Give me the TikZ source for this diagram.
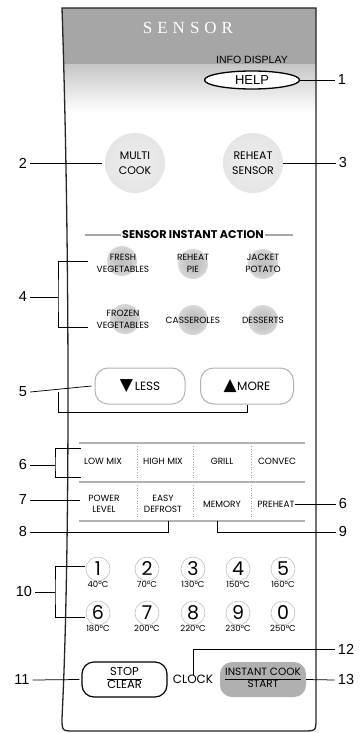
\documentclass[tikz,border=0pt]{standalone}
\usepackage{fontspec}
\setmainfont{Poppins}
\newfontfamily\labfont{Liberation Sans}
\newfontfamily\titlefont{Liberation Serif}
\newfontfamily\symfont{DejaVu Sans}
\usetikzlibrary{shapes.geometric,calc}
\pgfdeclareradialshading{softbig}{\pgfpoint{0bp}{0bp}}{color(0bp)=(black!7); color(32bp)=(black!11); color(50bp)=(white)}
\pgfdeclareradialshading{softsmall}{\pgfpoint{0bp}{0bp}}{color(0bp)=(black!25); color(14bp)=(black!22); color(50bp)=(white)}
\tikzset{
  lbl/.style={font=\labfont\fontsize{14.5}{15}\selectfont, inner sep=3pt},
  callout/.style={line width=0.75pt, black},
  bigkey/.style={circle, minimum size=60pt, inner sep=0pt, shading=softbig, font=\fontsize{11}{15.5}\selectfont, align=center},
  actdot/.style={circle, minimum size=30pt, inner sep=0pt, shading=softsmall},
  act/.style={font=\fontsize{9}{12.5}\selectfont, align=center, inner sep=0pt},
  pill/.style={draw=black!30, line width=1pt, rounded corners=13pt, minimum height=36pt, inner sep=0pt, font=\fontsize{12}{12}\selectfont},
  gridtxt/.style={font=\fontsize{9}{11}\selectfont, align=center, inner sep=0pt},
  gridline/.style={black!30, line width=1.2pt},
  gridsep/.style={black!35, dotted, line width=0.6pt},
  numring/.style={circle, draw=black!25, line width=0.6pt, minimum size=24pt, inner sep=0pt},
  digit/.style={font=\fontsize{19}{19}\selectfont, inner sep=0pt},
  temp/.style={font=\fontsize{8.5}{8.5}\selectfont, inner sep=0pt},
  bottomkey/.style={rounded corners=12pt, minimum width=86pt, minimum height=35pt, inner sep=0pt, font=\fontsize{11.5}{12}\selectfont},
}
\setlength{\arrayrulewidth}{0.9pt}
\begin{document}
\begin{tikzpicture}[x=1pt, y=-1pt]
\useasboundingbox (0,0) rectangle (359,733);
\def\panelpath{(62,8) -- (316,8) -- (316,718) .. controls (316,731) .. (303,731) -- (75,731) .. controls (62,731) .. (62,718) .. controls (70,560) and (70,250) .. (62,8) -- cycle}
% header
\begin{scope}
  \clip \panelpath;
  \fill[black!35] (40,0) rectangle (330,65);
  \shade[top color=black!22, bottom color=white] (40,65) rectangle (330,112);
\end{scope}
\draw[black!85, line width=1.3pt] \panelpath;
\node[text=white, font=\titlefont\fontsize{17}{17}\selectfont, inner sep=0pt] (title) at (188,28) {S\kern5pt E\kern5pt N\kern5pt S\kern5pt O\kern5pt R};
\node[font=\labfont\fontsize{10.5}{11}\selectfont, inner sep=0pt] (info) at (252,60) {INFO DISPLAY};
\node[ellipse, draw=black, line width=1.3pt, fill=white, minimum width=95pt, minimum height=18pt, inner sep=0pt, font=\labfont\fontsize{13}{13}\selectfont] (help) at (252,80) {HELP};

% big keys
\node[bigkey] (mc) at (135,163) {MULTI\\COOK};
\node[bigkey] (rs) at (253,163) {REHEAT\\SENSOR};

% sensor instant action
\draw[black!35, line width=1.2pt] (85,235) -- (293,235);
\node[fill=white, inner xsep=1pt, inner ysep=0pt, font=\bfseries\fontsize{11.2}{12}\selectfont] (sia) at (193,235) {SENSOR INSTANT ACTION};
\foreach \n/\x/\y in {d1/122/261, d2/193/264, d3/263/264, d4/125/319, d5/193/320, d6/263/320}
  \node[actdot] (\n) at (\x,\y) {};
\node[act] (fv) at (123,263.5) {FRESH\\VEGETABLES};
\node[act] (rp) at (193,263.5) {REHEAT\\PIE};
\node[act] (jp) at (263,263.5) {JACKET\\POTATO};
\node[act] (zv) at (123,319.5) {FROZEN\\VEGETABLES};
\node[act] (cs) at (193,320) {CASSEROLES};
\node[act] (ds) at (263,320) {DESSERTS};

% less / more
\node[pill, minimum width=90pt] (less) at (140,386) {{\symfont\fontsize{17}{17}\selectfont ▼}\kern2pt LESS};
\node[pill, minimum width=93pt] (more) at (247,386) {{\symfont\fontsize{17}{17}\selectfont ▲}\kern0.5pt MORE};

% mode grid
\draw[gridline] (79,443) -- (305,443);
\draw[gridline] (79,482) -- (305,482);
\draw[gridline] (79,521) -- (305,521);
\foreach \x in {137,193,251} {
  \draw[gridsep] (\x,446) -- (\x,479);
  \draw[gridsep] (\x,485) -- (\x,518);
}
\node[gridtxt] (lm) at (103,461) {LOW MIX};
\node[gridtxt] (hm) at (163,461) {HIGH MIX};
\node[gridtxt] (gr) at (222,461) {GRILL};
\node[gridtxt] (cv) at (277,461) {CONVEC};
\node[gridtxt] (pl) at (104,503.5) {POWER\\LEVEL};
\node[gridtxt] (ed) at (163,503.5) {EASY\\DEFROST};
\node[gridtxt] (mm) at (222,504) {MEMORY};
\node[gridtxt] (ph) at (276,504) {PREHEAT};

% number keys
\foreach \d/\t/\x/\y in {1/40/98/569, 2/70/147/569, 3/130/193/569, 4/150/238/569, 5/160/283/569,
                         6/180/98/613, 7/200/147/613, 8/220/193/613, 9/230/238/613, 0/250/283/613} {
  \node[numring] (k\d) at (\x,\y) {};
  \node[digit] (n\d) at (\x,\y) {\d};
  \node[temp] (t\d) at (\x,\y+15) {\t°C};
}

% bottom keys
\node[bottomkey, draw=black, line width=1.2pt, minimum width=85pt] (sc) at (124.5,679.5)
  {\renewcommand{\arraystretch}{0.92}\begin{tabular}{@{}c@{}}STOP\\\hline CLEAR\end{tabular}};
\node[font=\fontsize{12}{12}\selectfont, inner sep=0pt] (clk) at (193,679) {CLOCK};
\node[bottomkey, fill=black!31, font=\fontsize{10.5}{11}\selectfont] (ic) at (263,679.5)
  {\renewcommand{\arraystretch}{1.0}\begin{tabular}{@{}c@{}}INSTANT COOK\\\hline START\end{tabular}};

% callout labels
\node[lbl] (L1) at (342,80) {1};
\node[lbl] (L2) at (23,163) {2};
\node[lbl] (L3) at (343,163) {3};
\node[lbl] (L4) at (23,297) {4};
\node[lbl] (L5) at (23,392) {5};
\node[lbl] (L6a) at (23,465) {6};
\node[lbl] (L7) at (23,500) {7};
\node[lbl] (L6b) at (343,504) {6};
\node[lbl] (L8) at (23,532) {8};
\node[lbl] (L9) at (343,532) {9};
\node[lbl] (L10) at (24,592) {10};
\node[lbl] (L11) at (22,680) {11};
\node[lbl] (L12) at (346,649) {12};
\node[lbl] (L13) at (346,680) {13};

% connector coordinates
\coordinate (k4) at (58,297);
\coordinate (b4t) at (88,261);
\coordinate (b4b) at (88,327);
\coordinate (k5) at (58,392);
\coordinate (k5b) at (58,412);
\coordinate (k6) at (55,465);
\coordinate (b6t) at (81,448);
\coordinate (b6b) at (81,477);
\coordinate (e7) at (80,500);
\coordinate (e8) at (168,521);
\coordinate (e9) at (217,521);
\coordinate (k10) at (55,592);
\coordinate (b10t) at (85,566);
\coordinate (b10b) at (85,617);

% connectors
\draw[callout] (help.east) -- (L1.west);
\draw[callout] (L2.east) -- ($(mc.west)+(-3,0)$);
\draw[callout] (rs.east) -- (L3.west);
\draw[callout] (L4.east) -- (k4);
\draw[callout] (b4t) -| (k4) |- (b4b);
\draw[callout] (L5.east) -- ($(less.west)+(-3,0)$);
\draw[callout] (k5) -- (k5b) -| (more.south);
\draw[callout] (L6a.east) -- (k6);
\draw[callout] (b6t) -| (k6) |- (b6b);
\draw[callout] (L7.east) -- (e7);
\draw[callout] (ph.east) -- (L6b.west);
\draw[callout] (L8.east) -| (e8);
\draw[callout] (L9.west) -| (e9);
\draw[callout] (L10.east) -- (k10);
\draw[callout] (b10t) -| (k10) |- (b10b);
\draw[callout] (L11.east) -- ($(sc.west)+(-2,0)$);
\draw[callout] (clk.north) |- (L12.west);
\draw[callout] (ic.east) -- (L13.west);
\end{tikzpicture}
\end{document}
